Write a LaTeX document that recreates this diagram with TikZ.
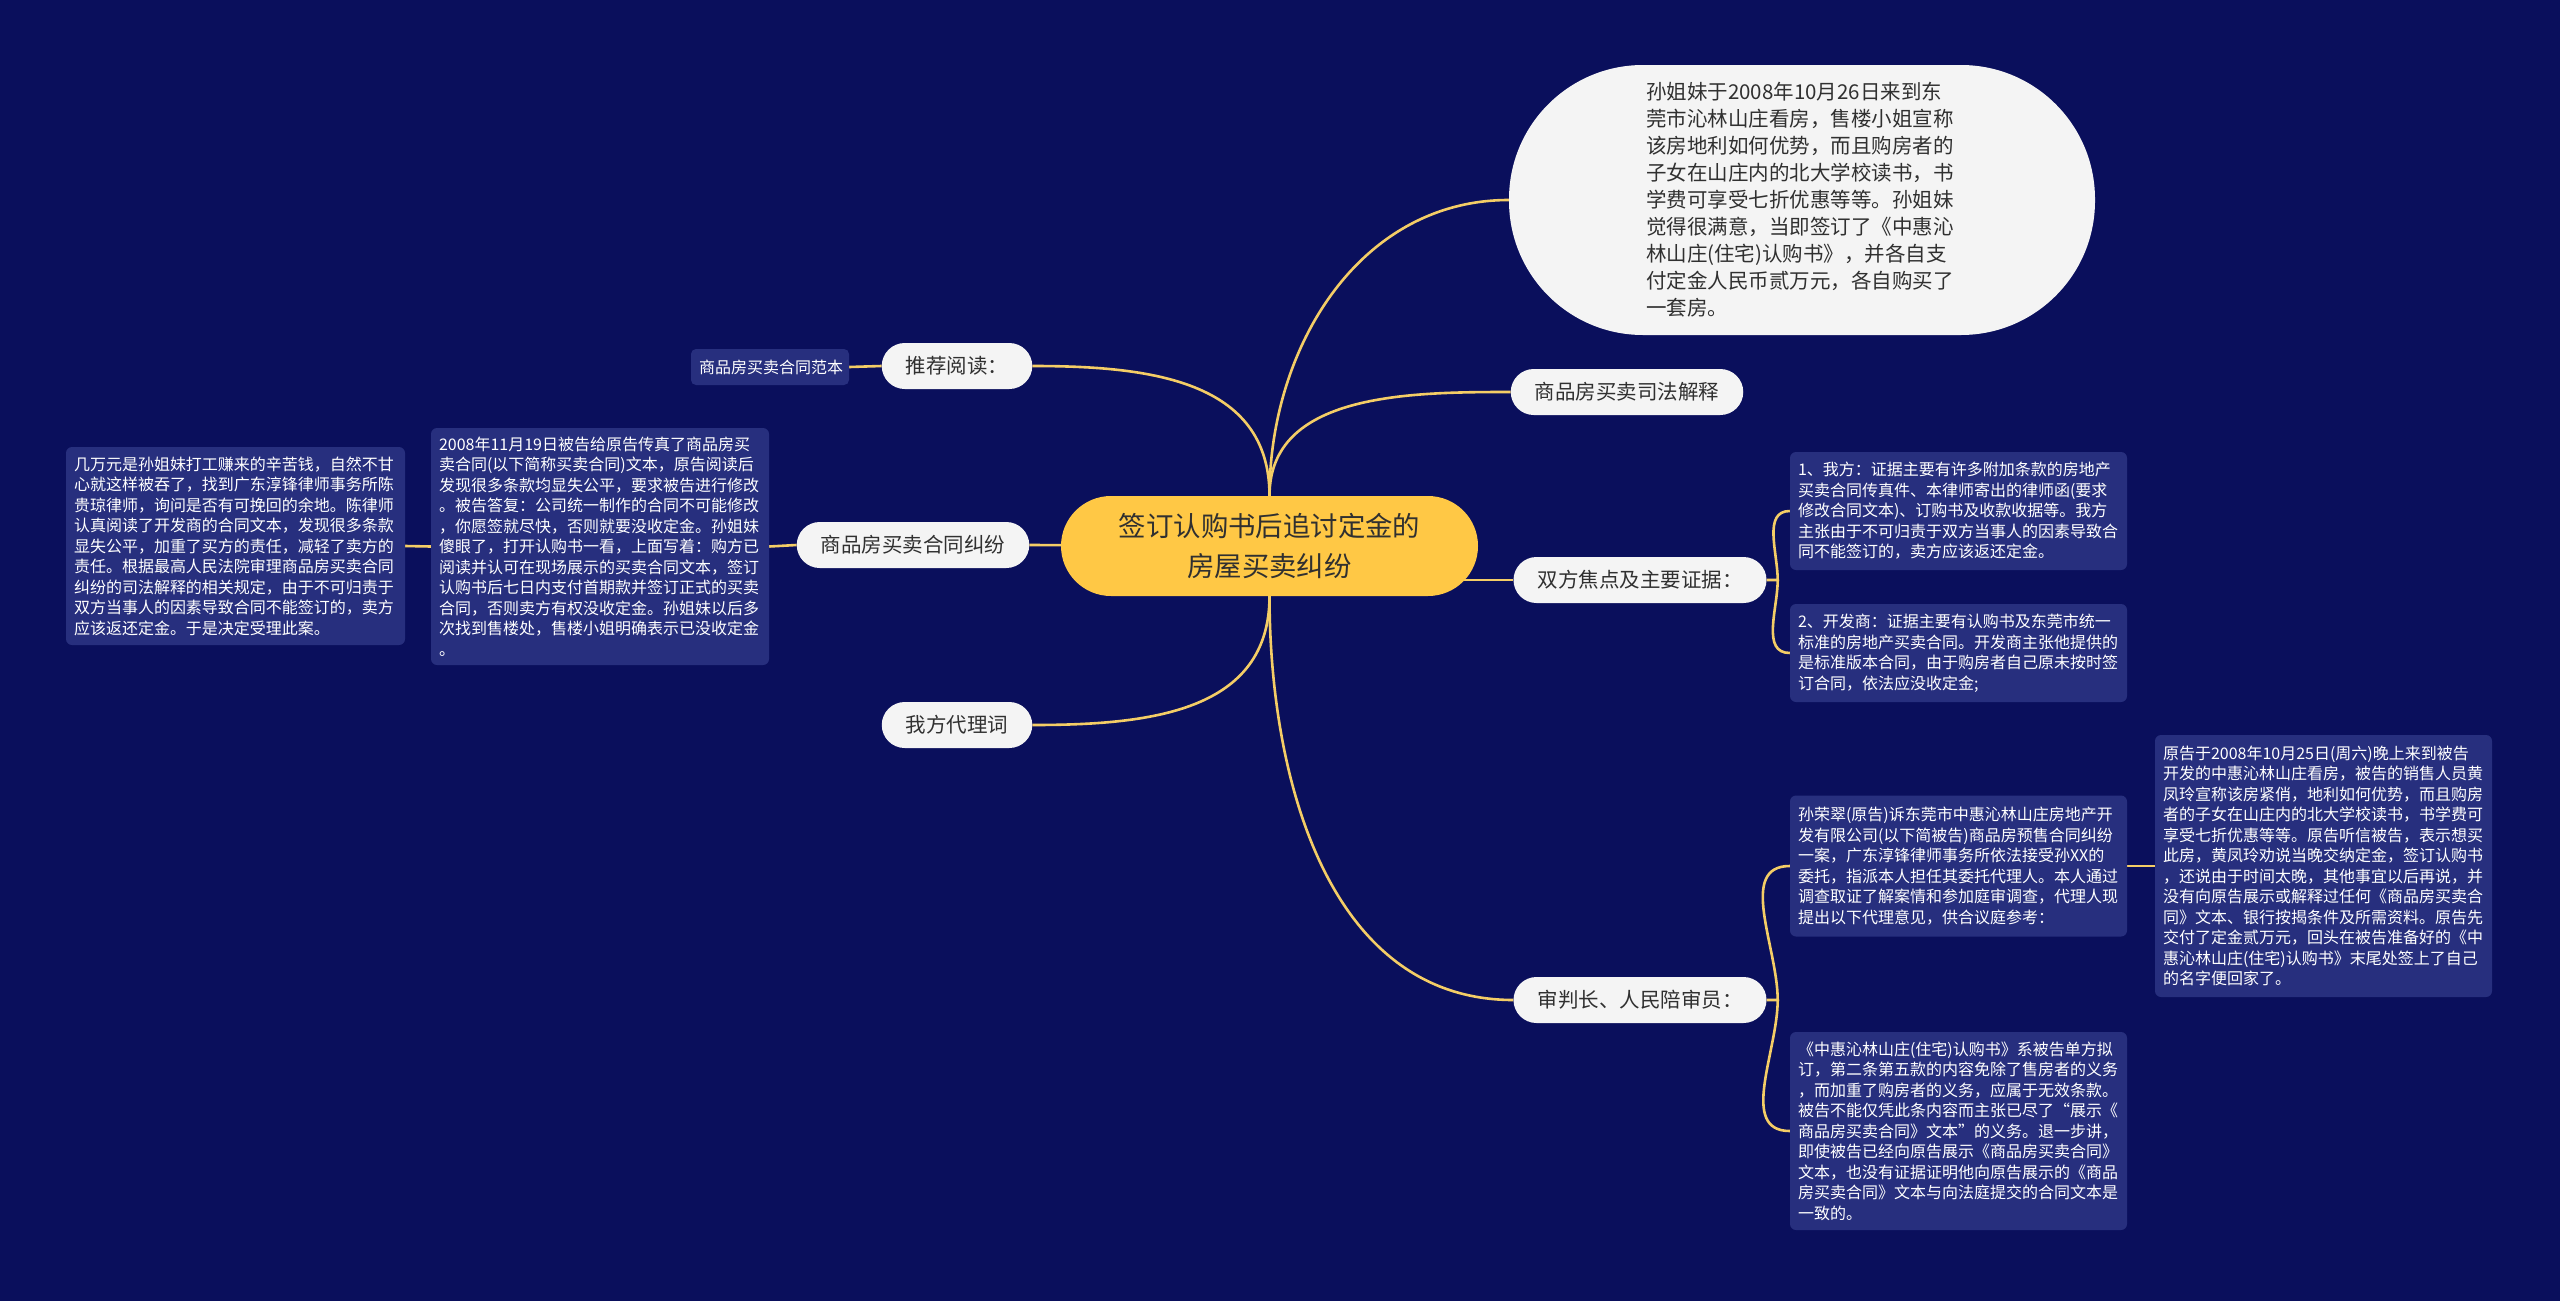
\documentclass[tikz,border=0pt]{standalone}
\usepackage{fontspec}
\setmainfont{Noto Sans CJK SC}
\usetikzlibrary{backgrounds,calc}

\definecolor{mmBg}{HTML}{0A0F5C}
\definecolor{mmBox}{HTML}{272F7E}
\definecolor{mmGold}{HTML}{F4CD66}
\definecolor{mmCore}{HTML}{FFC845}
\definecolor{mmPill}{HTML}{F4F4F4}
\definecolor{mmInk}{HTML}{303030}

\newcommand{\mmSmall}{\fontsize{16}{20.5}\selectfont}
\newcommand{\mmMid}{\fontsize{20.5}{27}\selectfont}
\newcommand{\mmBig}{\fontsize{27.4}{40}\selectfont}

\tikzset{
    mmcore/.style={fill=mmCore, text=mmInk, font=\mmBig, align=center,
        rounded corners=50pt, minimum width=417pt, minimum height=100pt},
    mmpill/.style={fill=mmPill, text=mmInk, font=\mmMid, rounded corners=23pt,
        minimum height=46pt, inner xsep=24pt, inner ysep=0pt},
    mmbox/.style={fill=mmBox, text=white, font=\mmSmall, align=left,
        rounded corners=6pt, inner xsep=8pt, inner ysep=6pt, text width=321pt},
    mmlink/.style={draw=mmGold, line width=2.6pt},
}

\begin{document}
\begin{tikzpicture}[x=1pt, y=-1pt]
    \useasboundingbox (0,0) rectangle (2560,1301);

    % root
    \node[mmcore] (cen) at (1269.5,546) {签订认购书后追讨定金的\\房屋买卖纠纷};

    % left side
    \node[mmpill] (tjyd) at (957,366) {推荐阅读：};
    \node[mmbox, text width=142pt, align=center, minimum height=36pt,
        rounded corners=5pt, inner ysep=0pt] (fanben) at (770,367) {商品房买卖合同范本};
    \node[mmpill] (jiufen) at (913,545) {商品房买卖合同纠纷};
    \node[mmbox, text width=322pt, minimum height=237pt] (jfA) at (600,546.5) {%
        2008年11月19日被告给原告传真了商品房买\\
        卖合同(以下简称买卖合同)文本，原告阅读后\\
        发现很多条款均显失公平，要求被告进行修改\\
        。被告答复：公司统一制作的合同不可能修改\\
        ，你愿签就尽快，否则就要没收定金。孙姐妹\\
        傻眼了，打开认购书一看，上面写着：购方已\\
        阅读并认可在现场展示的买卖合同文本，签订\\
        认购书后七日内支付首期款并签订正式的买卖\\
        合同，否则卖方有权没收定金。孙姐妹以后多\\
        次找到售楼处，售楼小姐明确表示已没收定金\\
        。};
    \node[mmbox, text width=323pt, minimum height=198pt] (jfB) at (235.5,546) {%
        几万元是孙姐妹打工赚来的辛苦钱，自然不甘\\
        心就这样被吞了，找到广东淳锋律师事务所陈\\
        贵琼律师，询问是否有可挽回的余地。陈律师\\
        认真阅读了开发商的合同文本，发现很多条款\\
        显失公平，加重了买方的责任，减轻了卖方的\\
        责任。根据最高人民法院审理商品房买卖合同\\
        纠纷的司法解释的相关规定，由于不可归责于\\
        双方当事人的因素导致合同不能签订的，卖方\\
        应该返还定金。于是决定受理此案。};
    \node[mmpill] (dlc) at (957,725) {我方代理词};

    % right side
    \node[fill=mmPill, text=mmInk, font=\mmMid, align=left, text width=312pt,
        rounded corners=134pt, minimum width=586pt, minimum height=270pt] (bub) at (1802,200) {%
        孙姐妹于2008年10月26日来到东\\
        莞市沁林山庄看房，售楼小姐宣称\\
        该房地利如何优势，而且购房者的\\
        子女在山庄内的北大学校读书，书\\
        学费可享受七折优惠等等。孙姐妹\\
        觉得很满意，当即签订了《中惠沁\\
        林山庄(住宅)认购书》，并各自支\\
        付定金人民币贰万元，各自购买了\\
        一套房。};
    \node[mmpill] (sfjs) at (1627,392) {商品房买卖司法解释};
    \node[mmpill] (jd) at (1640,580) {双方焦点及主要证据：};
    \node[mmbox, minimum height=118pt] (jdA) at (1958.5,511) {%
        1、我方：证据主要有许多附加条款的房地产\\
        买卖合同传真件、本律师寄出的律师函(要求\\
        修改合同文本)、订购书及收款收据等。我方\\
        主张由于不可归责于双方当事人的因素导致合\\
        同不能签订的，卖方应该返还定金。};
    \node[mmbox, minimum height=98pt] (jdB) at (1958.5,653) {%
        2、开发商：证据主要有认购书及东莞市统一\\
        标准的房地产买卖合同。开发商主张他提供的\\
        是标准版本合同，由于购房者自己原未按时签\\
        订合同，依法应没收定金;};
    \node[mmpill] (spz) at (1640,1000) {审判长、人民陪审员：};
    \node[mmbox, minimum height=141pt] (spA) at (1958.5,866) {%
        孙荣翠(原告)诉东莞市中惠沁林山庄房地产开\\
        发有限公司(以下简被告)商品房预售合同纠纷\\
        一案，广东淳锋律师事务所依法接受孙XX的\\
        委托，指派本人担任其委托代理人。本人通过\\
        调查取证了解案情和参加庭审调查，代理人现\\
        提出以下代理意见，供合议庭参考：};
    \node[mmbox, minimum height=198pt] (spB) at (1958.5,1131) {%
        《中惠沁林山庄(住宅)认购书》系被告单方拟\\
        订，第二条第五款的内容免除了售房者的义务\\
        ，而加重了购房者的义务，应属于无效条款。\\
        被告不能仅凭此条内容而主张已尽了“展示《\\
        商品房买卖合同》文本”的义务。退一步讲，\\
        即使被告已经向原告展示《商品房买卖合同》\\
        文本，也没有证据证明他向原告展示的《商品\\
        房买卖合同》文本与向法庭提交的合同文本是\\
        一致的。};
    \node[mmbox, minimum height=262pt] (spC) at (2323.5,866) {%
        原告于2008年10月25日(周六)晚上来到被告\\
        开发的中惠沁林山庄看房，被告的销售人员黄\\
        凤玲宣称该房紧俏，地利如何优势，而且购房\\
        者的子女在山庄内的北大学校读书，书学费可\\
        享受七折优惠等等。原告听信被告，表示想买\\
        此房，黄凤玲劝说当晚交纳定金，签订认购书\\
        ，还说由于时间太晚，其他事宜以后再说，并\\
        没有向原告展示或解释过任何《商品房买卖合\\
        同》文本、银行按揭条件及所需资料。原告先\\
        交付了定金贰万元，回头在被告准备好的《中\\
        惠沁林山庄(住宅)认购书》末尾处签上了自己\\
        的名字便回家了。};

    \coordinate (jdfork) at ($(jd.east)+(11,0)$);
    \coordinate (spfork) at ($(spz.east)+(11,0)$);

    % links, behind the nodes
    \begin{scope}[on background layer]
        \fill[mmBg] (0,0) rectangle (2560,1301);
        \draw[mmlink] (cen.north) to[out=90, in=180] (bub.west);
        \draw[mmlink] (cen.north) to[out=90, in=180] (sfjs.west);
        \draw[mmlink] (cen.center |- jd.west) -- (jd.west);
        \draw[mmlink] (cen.south) to[out=-90, in=180] (spz.west);
        \draw[mmlink] (cen.north) to[out=90, in=0, looseness=1.1] (tjyd.east);
        \draw[mmlink] (cen.center) -- (jiufen.east);
        \draw[mmlink] (cen.south) to[out=-90, in=0, looseness=1.1] (dlc.east);
        \draw[mmlink] (tjyd.west) -- (fanben.east);
        \draw[mmlink] (jiufen.west) -- (jfA.east);
        \draw[mmlink] (jfA.west) -- (jfB.east);
        \draw[mmlink] (jd.east) -- (jdfork) to[out=90, in=180] (jdA.west);
        \draw[mmlink] (jdfork) to[out=-90, in=180] (jdB.west);
        \draw[mmlink] (spz.east) -- (spfork) to[out=90, in=180] (spA.west);
        \draw[mmlink] (spfork) to[out=-90, in=180] (spB.west);
        \draw[mmlink] (spA.east) -- (spC.west);
    \end{scope}
\end{tikzpicture}
\end{document}
